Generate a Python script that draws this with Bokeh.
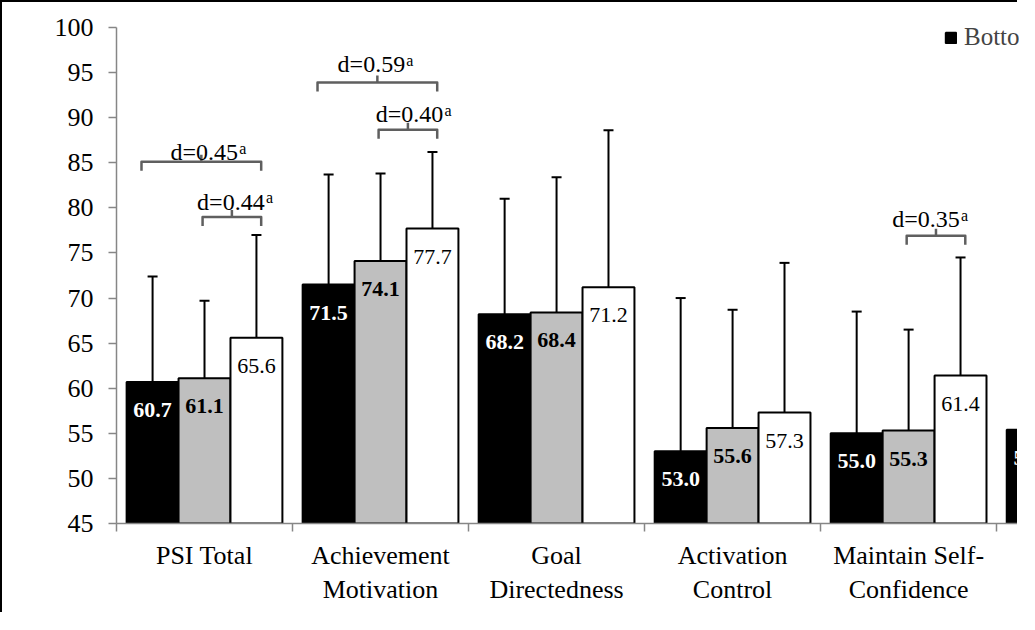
import math
from bokeh.plotting import figure
from bokeh.models import (Range1d, FixedTicker, Whisker, TeeHead, ColumnDataSource,
                          Legend, LegendItem, Label)
from bokeh.core.properties import value
from bokeh.embed import file_html
from bokeh.resources import INLINE

nan = float("nan")

# ---------------- data ----------------
categories = ["PSI Total", "Achievement\nMotivation", "Goal\nDirectedness",
              "Activation\nControl", "Maintain Self-\nConfidence", "Concentration"]
series_names = ["Bottom", "Middle", "Top"]
bottom_mean = [60.7, 71.5, 68.2, 53.0, 55.0, 55.4]
middle_mean = [61.1, 74.1, 68.4, 55.6, 55.3, nan]
top_mean = [65.6, 77.7, 71.2, 57.3, 61.4, nan]
bottom_upper = [72.4, 83.7, 81.0, 70.0, 68.5, nan]
middle_upper = [69.7, 83.8, 83.4, 68.7, 66.5, nan]
top_upper = [77.0, 86.2, 88.6, 73.9, 74.5, nan]
y_ticks = [45, 50, 55, 60, 65, 70, 75, 80, 85, 90, 95, 100]

# effect-size brackets: category, from-series, to-series, bracket level, d, label level
br_cat = [0, 0, 1, 1, 4]
br_from = [0, 1, 0, 1, 1]
br_to = [2, 2, 2, 2, 2]
br_level = [85.1, 79.0, 93.9, 88.65, 76.9]
br_d = ["0.45", "0.44", "0.59", "0.40", "0.35"]
br_text_level = [86.15, 80.7, 95.9, 90.4, 78.75]
br_text_dx = [3, -1, -6, 1.5, -10]   # px nudges of the label texts

# ---------------- figure ----------------
FONT = "Liberation Serif"
AXIS_FS = "26px"
W = 0.295
p = figure(width=1017, height=612, output_backend="svg", toolbar_location=None,
           x_range=Range1d(-0.5, 4.63), y_range=Range1d(45, 100),
           min_border_left=114, min_border_top=25, min_border_bottom=91, min_border_right=0)
p.styles = {"border-left": "2px solid black", "border-top": "2px solid black"}
p.outline_line_color = None
p.xgrid.visible = False
p.ygrid.visible = False
p.background_fill_color = "white"
p.border_fill_color = "white"

groups = [
    (bottom_mean, bottom_upper, "black", "white", "bold"),
    (middle_mean, middle_upper, "#bfbfbf", "black", "bold"),
    (top_mean, top_upper, "white", "black", "normal"),
]
renderers = []
for gi, (means, uppers, fill, tcol, tstyle) in enumerate(groups):
    idx = [i for i, v in enumerate(means) if not math.isnan(v)]
    src = ColumnDataSource(dict(
        x=[i + (gi - 1) * W for i in idx],
        top=[means[i] for i in idx],
        lab=[f"{means[i]:.1f}" for i in idx],
    ))
    r = p.vbar(x="x", top="top", bottom=45, width=W, fill_color=fill,
               line_color="black", line_width=2, source=src)
    renderers.append(r)
    p.text(x="x", y="top", text="lab", source=src, text_align="center",
           text_baseline="middle", y_offset=28, text_color=tcol,
           text_font=value(FONT), text_font_style=tstyle,
           text_font_size=value("22px"))
    widx = [i for i in idx if not math.isnan(uppers[i])]
    wsrc = ColumnDataSource(dict(
        base=[i + (gi - 1) * W for i in widx],
        lower=[means[i] for i in widx],
        upper=[uppers[i] for i in widx],
    ))
    wh = Whisker(base="base", lower="lower", upper="upper", source=wsrc,
                 line_color="black", line_width=2, lower_head=None,
                 upper_head=TeeHead(size=10, line_width=2, line_color="black"))
    p.add_layout(wh)

# brackets
px_y = 496 / 55.0
drop = 9 / px_y
rise = 7 / px_y
start_off = {0: -0.063, 1: -0.011}
xs, ys = [], []
for c, f, t, lev in zip(br_cat, br_from, br_to, br_level):
    x0 = c + (f - 1) * W + start_off[f]
    x1 = c + (t - 1) * W + 0.027
    xm = (x0 + x1) / 2
    xs.append([x0, x0, x1, x1]); ys.append([lev - drop, lev, lev, lev - drop])
    xs.append([xm, xm]); ys.append([lev, lev + rise])
p.multi_line(xs=xs, ys=ys, line_color="#5f5f5f", line_width=2.5, line_join="round")

for c, f, t, lev, d, tlev, dx in zip(br_cat, br_from, br_to, br_level, br_d, br_text_level, br_text_dx):
    x0 = c + (f - 1) * W + start_off[f]
    x1 = c + (t - 1) * W + 0.027
    xm = (x0 + x1) / 2
    p.text(x=[xm], y=[tlev], text=[f"d={d}"], x_offset=dx, text_align="center",
           text_baseline="alphabetic", text_color="black", text_font=value(FONT),
           text_font_size=value("24px"))
    p.text(x=[xm], y=[tlev], text=["a"], x_offset=dx + 35, y_offset=-4,
           text_align="left", text_baseline="alphabetic", text_color="black",
           text_font=value(FONT), text_font_size=value("16px"))

# axes
AX = "#868686"
p.xaxis.ticker = FixedTicker(ticks=list(range(len(categories))),
                             minor_ticks=[i - 0.5 for i in range(len(categories) + 1)])
p.xaxis.major_label_overrides = {i: c for i, c in enumerate(categories)}
p.xaxis.major_tick_line_color = None
p.xaxis.minor_tick_out = 8
p.xaxis.minor_tick_in = 0
p.xaxis.minor_tick_line_color = AX
p.xaxis.minor_tick_line_width = 1.5
p.xaxis.axis_line_color = AX
p.xaxis.axis_line_width = 1.5
p.xaxis.major_label_standoff = 9
p.xaxis.major_label_text_font = FONT
p.xaxis.major_label_text_font_size = AXIS_FS
p.xaxis.major_label_text_color = "black"

p.yaxis.ticker = FixedTicker(ticks=y_ticks)
p.yaxis.minor_tick_line_color = None
p.yaxis.major_tick_out = 8
p.yaxis.major_tick_in = 0
p.yaxis.major_tick_line_color = AX
p.yaxis.major_tick_line_width = 1.5
p.yaxis.axis_line_color = AX
p.yaxis.axis_line_width = 1.5
p.yaxis.major_label_standoff = 15
p.yaxis.major_label_text_font = FONT
p.yaxis.major_label_text_font_size = AXIS_FS
p.yaxis.major_label_text_color = "black"

# last (cut-off) category label
p.add_layout(Label(x=5, y=45 - 17 / px_y, text=categories[5], text_align="center",
                   text_baseline="top", text_font=FONT, text_font_size=AXIS_FS,
                   text_color="black"))

legend = Legend(items=[LegendItem(label=series_names[0], renderers=[renderers[0]])],
                location=(828, 472), orientation="horizontal", padding=0, margin=0,
                glyph_width=13, glyph_height=13, label_standoff=7,
                label_text_font=FONT, label_text_font_size="25px",
                border_line_color=None, background_fill_alpha=0)
p.add_layout(legend)

open("out.html", "w").write(file_html(p, INLINE))
